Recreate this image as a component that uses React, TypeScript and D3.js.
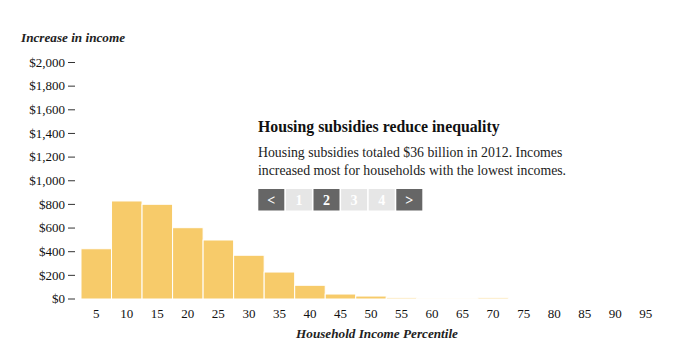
import { useMemo } from 'react';
import * as d3 from 'd3';

// household income percentile buckets
const percentiles = [5, 10, 15, 20, 25, 30, 35, 40, 45, 50, 55, 60, 65, 70, 75, 80, 85, 90, 95];
// increase in income, dollars
const increase = [425, 829, 801, 603, 499, 370, 228, 116, 42, 25, 11, 3, 3, 11, 0, 0, 0, 0, 0];
const yTicks = [0, 200, 400, 600, 800, 1000, 1200, 1400, 1600, 1800, 2000];

const title = 'Housing subsidies reduce inequality';
const bodyLines = [
  'Housing subsidies totaled $36 billion in 2012. Incomes',
  'increased most for households with the lowest incomes.',
];
const pages = ['<', '1', '2', '3', '4', '>'];
const activePage = '2';

const W = 680;
const H = 363;
const FONT = '"Liberation Serif", "Times New Roman", serif';

export default function App() {
  const x = useMemo(
    () => d3.scaleBand<number>().domain(percentiles).range([81, 661]).padding(0),
    []
  );
  const y = useMemo(() => d3.scaleLinear().domain([0, 2000]).range([299, 62.5]), []);
  const fmt = d3.format('$,');

  const data = percentiles.map((p, i) => ({ p, v: increase[i] }));

  return (
    <svg
      width={W}
      height={H}
      style={{ position: 'absolute', left: 0, top: 0, background: '#fff' }}
      fontFamily={FONT}
    >
      <text x={21} y={41.5} fontSize={13.2} fontStyle="italic" fontWeight="bold" fill="#222">
        Increase in income
      </text>

      {/* y axis */}
      <g>
        {yTicks.map((t) => (
          <g key={t} transform={`translate(0,${y(t)})`}>
            <line x1={68} x2={75} stroke="#333" strokeWidth={1} />
            <text x={65} dy="0.33em" textAnchor="end" fontSize={13} fill="#111">
              {fmt(t)}
            </text>
          </g>
        ))}
      </g>

      {/* bars */}
      <g>
        {data.map((d) => (
          <rect
            key={d.p}
            x={x(d.p)!}
            y={y(d.v)}
            width={x.bandwidth()}
            height={y(0) - y(d.v)}
            fill="#f7cb6a"
            stroke="#fff"
            strokeWidth={1}
          />
        ))}
      </g>

      {/* x axis labels */}
      <g>
        {percentiles.map((p) => (
          <text
            key={p}
            x={x(p)! + x.bandwidth() / 2}
            y={317.5}
            textAnchor="middle"
            fontSize={13}
            fill="#111"
          >
            {p}
          </text>
        ))}
      </g>
      <text
        x={377}
        y={338}
        textAnchor="middle"
        fontSize={13.2}
        fontStyle="italic"
        fontWeight="bold"
        fill="#222"
      >
        Household Income Percentile
      </text>

      {/* annotation */}
      <text x={258} y={132} fontSize={15.8} fontWeight="bold" fill="#111">
        {title}
      </text>
      {bodyLines.map((l, i) => (
        <text key={i} x={258} y={156.5 + i * 18} fontSize={13.8} fill="#222">
          {l}
        </text>
      ))}
      {pages.map((p, i) => {
        const bx = 258.3 + i * 27.6;
        const dark = p === '<' || p === '>' || p === activePage;
        return (
          <g key={p} transform={`translate(${bx},189)`}>
            <rect width={26} height={21.5} fill={dark ? '#666' : '#e6e6e6'} />
            <text
              x={13}
              y={15.5}
              textAnchor="middle"
              fontSize={14}
              fontWeight="bold"
              fill="#fff"
            >
              {p}
            </text>
          </g>
        );
      })}
    </svg>
  );
}
